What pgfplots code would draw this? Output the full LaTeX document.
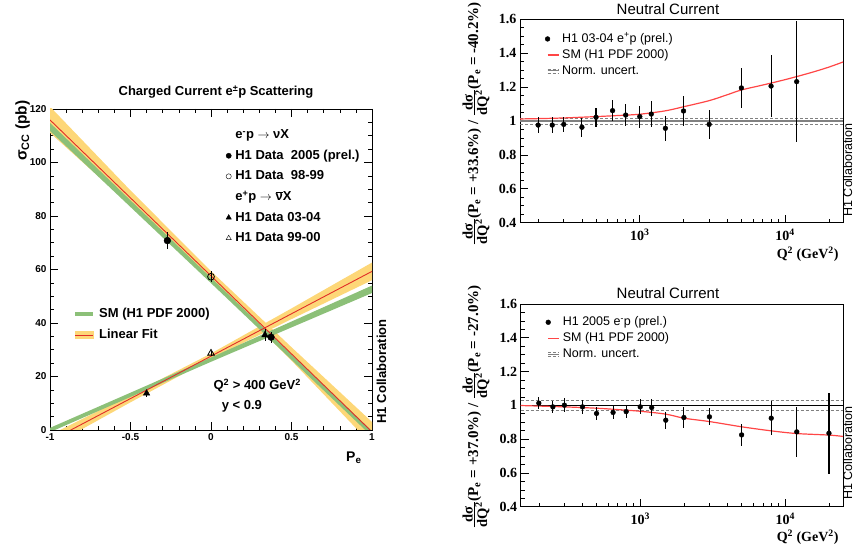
\documentclass[border=0pt]{standalone}
\usepackage{pgfplots}
\pgfplotsset{compat=1.18}
\usepackage{fontspec}
\setmainfont{Liberation Sans}
\newfontfamily\timesf{Liberation Serif}
\definecolor{yband}{RGB}{253,215,120}
\definecolor{gband}{RGB}{140,192,120}
\definecolor{fitred}{RGB}{225,45,40}
\definecolor{smred}{RGB}{255,70,70}
\pgfplotsset{
  markleg/.style={legend image code/.code={\draw[##1] plot coordinates {(0pt,0pt)};}},
  lineleg/.style={legend image code/.code={\draw[##1] (0pt,0pt) -- (#1,0pt);}},
}
\newcommand{\dsdq}{$\frac{\mbox{\fontsize{14.5}{14}\selectfont dσ}}{\mbox{\fontsize{14.5}{14}\selectfont dQ\textsuperscript{2}}}$}
\pgfplotstableread{
x y e
200 0.976 0.045
250 0.976 0.045
300 0.980 0.045
400 0.963 0.055
500 1.022 0.055
650 1.061 0.060
800 1.035 0.065
1000 1.026 0.065
1200 1.041 0.075
1500 0.957 0.075
2000 1.059 0.090
3000 0.980 0.085
5000 1.195 0.120
8000 1.206 0.185
12000 1.232 0.355
}\topdata
\pgfplotstableread{
x y e
200 1.013 0.035
250 0.991 0.035
300 1.001 0.042
400 0.991 0.040
500 0.952 0.038
650 0.958 0.040
800 0.963 0.040
1000 0.991 0.045
1200 0.987 0.050
1500 0.912 0.050
2000 0.928 0.060
3000 0.932 0.050
5000 0.825 0.064
8000 0.924 0.100
12000 0.843 0.148
20000 0.835 0.240
}\botdata
\begin{document}
\begin{tikzpicture}
% ---------------- left panel ----------------
\begin{axis}[
  at={(50pt,118pt)}, anchor=south west, scale only axis,
  width=322pt, height=321pt,
  xmin=-1, xmax=1, ymin=0, ymax=120,
  xtick={-1,-0.5,0,0.5,1}, xticklabels={-1,-0.5,0,0.5,1},
  ytick={0,20,40,60,80,100,120}, yticklabels={0,20,40,60,80,100,120},
  minor x tick num=4, minor y tick num=3,
  tick align=inside, major tick length=8pt, minor tick length=4pt,
  tick style={black, line width=0.6pt},
  axis line style={line width=0.8pt},
  ticklabel style={font=\bfseries\fontsize{10}{12}\selectfont},
  legend cell align=left,
  legend style={at={(0.537,0.944)}, anchor=north west, draw=none, fill=none,
    font=\bfseries\fontsize{13}{15}\selectfont, row sep=8.6pt, column sep=4pt,
    nodes={inner sep=0pt, text height=9.5pt, text depth=2.5pt}},
]
\addlegendimage{empty legend}
\addlegendentry{e\textsuperscript{-}p $\rightarrow$ νX}
\addlegendimage{black, mark=*, mark size=2.6pt, markleg}
\addlegendentry{H1 Data\ \ 2005 (prel.)}
\addlegendimage{black, mark=o, mark size=2.6pt, markleg}
\addlegendentry{H1 Data\ \ 98-99}
\addlegendimage{empty legend}
\addlegendentry{e\textsuperscript{+}p $\rightarrow$ $\overline{\mbox{ν}}$X}
\addlegendimage{black, mark=triangle*, mark size=3pt, markleg}
\addlegendentry{H1 Data 03-04}
\addlegendimage{black, mark=triangle, mark size=3pt, markleg}
\addlegendentry{H1 Data 99-00}
% fit uncertainty bands
\addplot[fill=yband, draw=none, forget plot] coordinates {(-1,120.9) (-0.5,89.55) (0,59.4) (0.5,30.95) (1,3.0) (1,-5.6) (0.5,25.95) (0,55.8) (-0.5,83.95) (-1,111.1)};
\addplot[fill=yband, draw=none, forget plot] coordinates {(-1,-1.9) (-0.5,13.15) (0,28.6) (0.5,45.45) (1,62.6) (1,56.0) (0.5,41.45) (0,26.6) (-0.5,10.35) (-1,-6.3)};
% SM bands
\addplot[fill=gband, draw=none, forget plot] coordinates {(-1,114.8) (0,56.9) (1,-0.4) (1,-2.4) (0,54.9) (-1,111.8)};
\addplot[fill=gband, draw=none, forget plot] coordinates {(-1,0.8) (0,27.1) (1,54.0) (1,51.2) (0,25.5) (-1,-0.8)};
% linear fits
\addplot[fitred, line width=0.9pt, forget plot] coordinates {(-1,115.9) (1,-0.7)};
\addplot[fitred, line width=0.9pt, forget plot] coordinates {(-1,-4.1) (1,59.3)};
% data
\addplot[black, only marks, mark=*, mark size=3.4pt, forget plot,
  error bars/.cd, y dir=both, y explicit, error mark=none, error bar style={line width=0.8pt}]
  coordinates {(-0.271,70.8) +- (0,3.2) (0.373,34.7) +- (0,2.0)};
\addplot[black, only marks, mark=o, mark size=3.4pt, mark options={line width=0.8pt}, forget plot,
  error bars/.cd, y dir=both, y explicit, error mark=none, error bar style={line width=0.8pt}]
  coordinates {(0,57.3) +- (0,2.0)};
\addplot[black, only marks, mark=triangle*, mark size=3.8pt, forget plot,
  error bars/.cd, y dir=both, y explicit, error mark=none, error bar style={line width=0.8pt}]
  coordinates {(-0.40,13.7) +- (0,1.3) (0.335,35.5) +- (0,2.2)};
\addplot[black, only marks, mark=triangle, mark size=3.8pt, mark options={line width=0.8pt}, forget plot,
  error bars/.cd, y dir=both, y explicit, error mark=none, error bar style={line width=0.8pt}]
  coordinates {(0,28.7) +- (0,1.0)};
\end{axis}
% second legend (SM / fit)
\begin{axis}[
  at={(50pt,118pt)}, anchor=south west, scale only axis,
  width=322pt, height=321pt, hide axis,
  xmin=-1, xmax=1, ymin=0, ymax=120,
  legend cell align=left,
  legend style={at={(0.062,0.387)}, anchor=north west, draw=none, fill=none,
    font=\bfseries\fontsize{13}{15}\selectfont, row sep=9pt, column sep=4pt,
    nodes={inner sep=0pt, text height=9.5pt, text depth=2.5pt}},
]
\addlegendimage{gband, line width=4pt, lineleg=18pt}
\addlegendentry{SM (H1 PDF 2000)}
\addlegendimage{legend image code/.code={\fill[yband] (0pt,-3.5pt) rectangle (18pt,3.5pt); \draw[fitred, line width=0.9pt] (0pt,0pt) -- (18pt,0pt);}}
\addlegendentry{Linear Fit}
\end{axis}
\node[anchor=base, font=\bfseries\fontsize{13}{15}\selectfont] at (216pt,452pt) {Charged Current e\textsuperscript{±}p Scattering};
\node[rotate=90, anchor=base east, font=\bfseries\fontsize{15.5}{17}\selectfont] at (26.5pt,451pt) {σ\textsubscript{CC} (pb)};
\node[anchor=base east, font=\bfseries\fontsize{14}{16}\selectfont] at (365pt,86.3pt) {P\textsubscript{e}};
\node[anchor=base west, font=\bfseries\fontsize{13}{15}\selectfont] at (210pt,158pt) {Q\textsuperscript{2} > 400 GeV\textsuperscript{2}};
\node[anchor=base west, font=\bfseries\fontsize{13}{15}\selectfont] at (218.3pt,138.7pt) {y < 0.9};
\node[rotate=90, anchor=base west, font=\bfseries\fontsize{13}{15}\selectfont] at (386pt,121pt) {H1 Collaboration};
% ---------------- right top panel ----------------
\begin{axis}[
  at={(520pt,325.3pt)}, anchor=south west, scale only axis,
  width=323pt, height=203.4pt,
  xmode=log, xmin=150, xmax=25000, ymin=0.4, ymax=1.6,
  xtick={1000,10000}, xticklabels={10\textsuperscript{3},10\textsuperscript{4}},
  minor xtick={200,300,400,500,600,700,800,900,2000,3000,4000,5000,6000,7000,8000,9000,20000},
  ytick={0.4,0.6,0.8,1,1.2,1.4,1.6}, yticklabels={0.4,0.6,0.8,1,1.2,1.4,1.6},
  minor y tick num=3, xtick pos=lower, ytick pos=left,
  tick align=inside, major tick length=8pt, minor tick length=4pt,
  tick style={black, line width=0.6pt},
  axis line style={line width=0.8pt},
  ticklabel style={font=\timesf\bfseries\fontsize{14}{16}\selectfont},
  xticklabel style={yshift=-3pt},
  legend cell align=left,
  legend style={at={(0.068,0.9425)}, anchor=north west, draw=none, fill=none,
    font=\fontsize{12.5}{14}\selectfont, row sep=4.5pt, column sep=3pt,
    nodes={inner sep=0pt, text height=9pt, text depth=2.5pt}},
]
\addlegendimage{black, mark=*, mark size=2.4pt, markleg}
\addlegendentry{H1 03-04 e\textsuperscript{+}p (prel.)}
\addlegendimage{smred, line width=1.2pt, lineleg=11pt}
\addlegendentry{SM (H1 PDF 2000)}
\addlegendimage{legend image code/.code={\draw[gray, line width=0.6pt, densely dashed] (0pt,2pt) -- (11pt,2pt); \draw[gray, line width=0.9pt] (0pt,0pt) -- (11pt,0pt); \draw[gray, line width=0.6pt, densely dashed] (0pt,-2pt) -- (11pt,-2pt);}}
\addlegendentry{Norm. uncert.}
\addplot[gray, line width=1.2pt, forget plot] coordinates {(150,1) (25000,1)};
\addplot[gray, densely dashed, line width=0.6pt, forget plot] coordinates {(150,1.018) (25000,1.018)};
\addplot[gray, densely dashed, line width=0.6pt, forget plot] coordinates {(150,0.982) (25000,0.982)};
\addplot[smred, line width=1.2pt, smooth, forget plot] coordinates {
(150,1.012) (200,1.014) (300,1.018) (500,1.026) (700,1.032) (1000,1.040) (1500,1.060) (2000,1.084) (3000,1.120) (4000,1.155) (5000,1.183) (7000,1.212) (10000,1.244) (15000,1.285) (20000,1.318) (25000,1.348)};
\addplot[black, only marks, mark=*, mark size=2.4pt, forget plot,
  error bars/.cd, y dir=both, y explicit, error mark=none, error bar style={line width=1.1pt}]
  table[x=x, y=y, y error=e] {\topdata};
\end{axis}
% ---------------- right bottom panel ----------------
\begin{axis}[
  at={(520.7pt,41.3pt)}, anchor=south west, scale only axis,
  width=322.3pt, height=202.7pt,
  xmode=log, xmin=150, xmax=25000, ymin=0.4, ymax=1.6,
  xtick={1000,10000}, xticklabels={10\textsuperscript{3},10\textsuperscript{4}},
  minor xtick={200,300,400,500,600,700,800,900,2000,3000,4000,5000,6000,7000,8000,9000,20000},
  ytick={0.4,0.6,0.8,1,1.2,1.4,1.6}, yticklabels={0.4,0.6,0.8,1,1.2,1.4,1.6},
  minor y tick num=3, xtick pos=lower, ytick pos=left,
  tick align=inside, major tick length=8pt, minor tick length=4pt,
  tick style={black, line width=0.6pt},
  axis line style={line width=0.8pt},
  ticklabel style={font=\timesf\bfseries\fontsize{14}{16}\selectfont},
  xticklabel style={yshift=-3pt},
  legend cell align=left,
  legend style={at={(0.068,0.949)}, anchor=north west, draw=none, fill=none,
    font=\fontsize{12.5}{14}\selectfont, row sep=4.5pt, column sep=3pt,
    nodes={inner sep=0pt, text height=9pt, text depth=2.5pt}},
]
\addlegendimage{black, mark=*, mark size=2.4pt, markleg}
\addlegendentry{H1 2005 e\textsuperscript{-}p (prel.)}
\addlegendimage{smred, line width=1.2pt, lineleg=11pt}
\addlegendentry{SM (H1 PDF 2000)}
\addlegendimage{legend image code/.code={\draw[gray, line width=0.6pt, densely dashed] (0pt,2pt) -- (11pt,2pt); \draw[gray, line width=0.9pt] (0pt,0pt) -- (11pt,0pt); \draw[gray, line width=0.6pt, densely dashed] (0pt,-2pt) -- (11pt,-2pt);}}
\addlegendentry{Norm. uncert.}
\addplot[black, line width=0.8pt, forget plot] coordinates {(150,1) (25000,1)};
\addplot[gray, densely dashed, line width=0.6pt, forget plot] coordinates {(150,1.03) (25000,1.03)};
\addplot[gray, densely dashed, line width=0.6pt, forget plot] coordinates {(150,0.97) (25000,0.97)};
\addplot[smred, line width=1.2pt, smooth, forget plot] coordinates {
(150,0.999) (300,0.991) (500,0.983) (700,0.975) (1000,0.965) (1500,0.948) (2000,0.924) (3000,0.904) (5000,0.873) (8000,0.849) (12000,0.833) (20000,0.824) (25000,0.816)};
\addplot[black, only marks, mark=*, mark size=2.4pt, forget plot,
  error bars/.cd, y dir=both, y explicit, error mark=none, error bar style={line width=1.1pt}]
  table[x=x, y=y, y error=e] {\botdata};
\end{axis}
% right panel texts
\node[anchor=base, font=\fontsize{15}{17}\selectfont] at (668pt,533pt) {Neutral Current};
\node[anchor=base, font=\fontsize{15}{17}\selectfont] at (668pt,249.7pt) {Neutral Current};
\node[anchor=base east, font=\timesf\bfseries\fontsize{14}{16}\selectfont] at (842pt,289pt) {Q\textsuperscript{2} (GeV\textsuperscript{2})};
\node[anchor=base east, font=\timesf\bfseries\fontsize{14}{16}\selectfont] at (842pt,6.5pt) {Q\textsuperscript{2} (GeV\textsuperscript{2})};
\node[rotate=90, anchor=base west, font=\fontsize{12.5}{14}\selectfont] at (852pt,328pt) {H1 Collaboration};
\node[rotate=90, anchor=base west, font=\fontsize{12.5}{14}\selectfont] at (852pt,45pt) {H1 Collaboration};
\node[rotate=90, anchor=center, font=\timesf\bfseries\fontsize{15}{17}\selectfont] at (476pt,424pt)
  {\dsdq(P\textsubscript{e} = +33.6\%) / \dsdq(P\textsubscript{e} = -40.2\%)};
\node[rotate=90, anchor=center, font=\timesf\bfseries\fontsize{15}{17}\selectfont] at (476pt,141pt)
  {\dsdq(P\textsubscript{e} = +37.0\%) / \dsdq(P\textsubscript{e} = -27.0\%)};
\pgfresetboundingbox
\path[use as bounding box] (0pt,0pt) rectangle (853pt,548pt);
\end{tikzpicture}
\end{document}
